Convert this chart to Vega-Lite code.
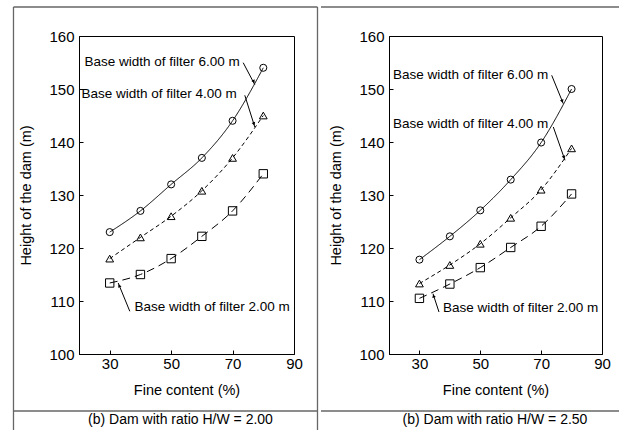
{
  "$schema": "https://vega.github.io/schema/vega-lite/v6.json",
  "padding": {"left": 12, "top": 5, "right": 0, "bottom": 0},
  "background": "white",
  "spacing": 0,
  "config": {
    "font": "Liberation Sans",
    "view": {"stroke": "black", "strokeWidth": 1},
    "axis": {
      "grid": false,
      "domainColor": "black",
      "domainWidth": 1,
      "tickColor": "black",
      "tickSize": -4,
      "labelColor": "black",
      "titleColor": "black",
      "labelFont": "Liberation Sans",
      "titleFont": "Liberation Sans",
      "labelFontSize": 15,
      "titleFontSize": 14.5,
      "titleFontWeight": "normal",
      "labelOverlap": false
    },
    "axisX": {"labelPadding": 6, "titlePadding": 12},
    "axisY": {"labelPadding": 9, "titlePadding": 15}
  },
  "datasets": {
    "dam": [
      {"ratio": "2.00", "filter": "6.00 m", "fine": 30, "height": 123},
      {"ratio": "2.00", "filter": "6.00 m", "fine": 40, "height": 127},
      {"ratio": "2.00", "filter": "6.00 m", "fine": 50, "height": 132},
      {"ratio": "2.00", "filter": "6.00 m", "fine": 60, "height": 137},
      {"ratio": "2.00", "filter": "6.00 m", "fine": 70, "height": 144},
      {"ratio": "2.00", "filter": "6.00 m", "fine": 80, "height": 154},
      {"ratio": "2.00", "filter": "4.00 m", "fine": 30, "height": 118},
      {"ratio": "2.00", "filter": "4.00 m", "fine": 40, "height": 122},
      {"ratio": "2.00", "filter": "4.00 m", "fine": 50, "height": 126},
      {"ratio": "2.00", "filter": "4.00 m", "fine": 60, "height": 130.8},
      {"ratio": "2.00", "filter": "4.00 m", "fine": 70, "height": 137},
      {"ratio": "2.00", "filter": "4.00 m", "fine": 80, "height": 145},
      {"ratio": "2.00", "filter": "2.00 m", "fine": 30, "height": 113.4},
      {"ratio": "2.00", "filter": "2.00 m", "fine": 40, "height": 115},
      {"ratio": "2.00", "filter": "2.00 m", "fine": 50, "height": 118},
      {"ratio": "2.00", "filter": "2.00 m", "fine": 60, "height": 122.2},
      {"ratio": "2.00", "filter": "2.00 m", "fine": 70, "height": 127},
      {"ratio": "2.00", "filter": "2.00 m", "fine": 80, "height": 134},
      {"ratio": "2.50", "filter": "6.00 m", "fine": 30, "height": 117.8},
      {"ratio": "2.50", "filter": "6.00 m", "fine": 40, "height": 122.2},
      {"ratio": "2.50", "filter": "6.00 m", "fine": 50, "height": 127.1},
      {"ratio": "2.50", "filter": "6.00 m", "fine": 60, "height": 132.9},
      {"ratio": "2.50", "filter": "6.00 m", "fine": 70, "height": 139.9},
      {"ratio": "2.50", "filter": "6.00 m", "fine": 80, "height": 150},
      {"ratio": "2.50", "filter": "4.00 m", "fine": 30, "height": 113.3},
      {"ratio": "2.50", "filter": "4.00 m", "fine": 40, "height": 116.8},
      {"ratio": "2.50", "filter": "4.00 m", "fine": 50, "height": 120.8},
      {"ratio": "2.50", "filter": "4.00 m", "fine": 60, "height": 125.7},
      {"ratio": "2.50", "filter": "4.00 m", "fine": 70, "height": 131},
      {"ratio": "2.50", "filter": "4.00 m", "fine": 80, "height": 138.8},
      {"ratio": "2.50", "filter": "2.00 m", "fine": 30, "height": 110.5},
      {"ratio": "2.50", "filter": "2.00 m", "fine": 40, "height": 113.2},
      {"ratio": "2.50", "filter": "2.00 m", "fine": 50, "height": 116.3},
      {"ratio": "2.50", "filter": "2.00 m", "fine": 60, "height": 120.1},
      {"ratio": "2.50", "filter": "2.00 m", "fine": 70, "height": 124.1},
      {"ratio": "2.50", "filter": "2.00 m", "fine": 80, "height": 130.2}
    ]
  },
  "hconcat": [
    {
      "width": 215,
      "height": 318,
      "layer": [
        {
          "data": {"name": "dam"},
          "transform": [{"filter": "datum.ratio == '2.00'"}],
          "mark": {"type": "line", "interpolate": "monotone", "color": "black", "strokeWidth": 1},
          "encoding": {
            "x": {"field": "fine", "type": "quantitative", "scale": {"domain": [20, 90]},
              "axis": {"title": "Fine content (%)", "values": [30, 40, 50, 60, 70, 80, 90], "labelOverlap": false, "labelFlush": false, "labelExpr": "datum.value % 20 == 10 ? datum.label : ''"}},
            "y": {"field": "height", "type": "quantitative", "scale": {"domain": [100, 160]},
              "axis": {"title": "Height of the dam (m)", "values": [100, 105, 110, 115, 120, 125, 130, 135, 140, 145, 150, 155, 160], "labelOverlap": false, "labelFlush": false, "labelExpr": "datum.value % 10 == 0 ? datum.label : ''"}},
            "strokeDash": {"field": "filter", "type": "nominal", "scale": {"domain": ["6.00 m", "4.00 m", "2.00 m"], "range": [[1, 0], [4, 3], [8, 5]]}, "legend": null}
          }
        },
        {
          "data": {"name": "dam"},
          "transform": [{"filter": "datum.ratio == '2.00'"}],
          "mark": {"type": "point", "filled": false, "color": "black", "strokeWidth": 1, "opacity": 1},
          "encoding": {
            "x": {"field": "fine", "type": "quantitative"},
            "y": {"field": "height", "type": "quantitative"},
            "shape": {"field": "filter", "type": "nominal", "scale": {"domain": ["6.00 m", "4.00 m", "2.00 m"], "range": ["circle", "triangle-up", "square"]}, "legend": null},
            "size": {"field": "filter", "type": "nominal", "scale": {"domain": ["6.00 m", "4.00 m", "2.00 m"], "range": [50, 70, 100]}, "legend": null}
          }
        },
        {
          "data": {"values": [{}]},
          "mark": {"type": "rule", "color": "black", "strokeWidth": 1, "clip": false},
          "encoding": {"x": {"datum": 73.46, "type": "quantitative"}, "y": {"datum": 154.96, "type": "quantitative"}, "x2": {"datum": 77.24}, "y2": {"datum": 150.81}}
        },
        {
          "data": {"values": [{}]},
          "mark": {"type": "point", "shape": "triangle-up", "filled": true, "color": "black", "size": 14, "angle": 152, "opacity": 1},
          "encoding": {"x": {"datum": 76.9, "type": "quantitative"}, "y": {"datum": 151.4, "type": "quantitative"}}
        },
        {
          "data": {"values": [{}]},
          "mark": {"type": "rule", "color": "black", "strokeWidth": 1, "clip": false},
          "encoding": {"x": {"datum": 73.98, "type": "quantitative"}, "y": {"datum": 148.81, "type": "quantitative"}, "x2": {"datum": 77.24}, "y2": {"datum": 142.83}}
        },
        {
          "data": {"values": [{}]},
          "mark": {"type": "point", "shape": "triangle-up", "filled": true, "color": "black", "size": 14, "angle": 162, "opacity": 1},
          "encoding": {"x": {"datum": 76.95, "type": "quantitative"}, "y": {"datum": 143.4, "type": "quantitative"}}
        },
        {
          "data": {"values": [{}]},
          "mark": {"type": "rule", "color": "black", "strokeWidth": 1, "clip": false},
          "encoding": {"x": {"datum": 36.54, "type": "quantitative"}, "y": {"datum": 108.06, "type": "quantitative"}, "x2": {"datum": 32.76}, "y2": {"datum": 113.4}}
        },
        {
          "data": {"values": [{}]},
          "mark": {"type": "point", "shape": "triangle-up", "filled": true, "color": "black", "size": 14, "angle": 338, "opacity": 1},
          "encoding": {"x": {"datum": 33.1, "type": "quantitative"}, "y": {"datum": 112.9, "type": "quantitative"}}
        },
        {
          "data": {"values": [{}]},
          "mark": {"type": "text", "text": "Base width of filter 6.00 m", "align": "left", "baseline": "middle", "fontSize": 13.5, "color": "black"},
          "encoding": {"x": {"datum": 21.79, "type": "quantitative"}, "y": {"datum": 155.09, "type": "quantitative"}}
        },
        {
          "data": {"values": [{}]},
          "mark": {"type": "text", "text": "Base width of filter 4.00 m", "align": "left", "baseline": "middle", "fontSize": 13.5, "color": "black"},
          "encoding": {"x": {"datum": 20.81, "type": "quantitative"}, "y": {"datum": 149.06, "type": "quantitative"}}
        },
        {
          "data": {"values": [{}]},
          "mark": {"type": "text", "text": "Base width of filter 2.00 m", "align": "left", "baseline": "middle", "fontSize": 13.5, "color": "black"},
          "encoding": {"x": {"datum": 38.07, "type": "quantitative"}, "y": {"datum": 108.87, "type": "quantitative"}}
        },
        {
          "data": {"values": [{}]},
          "mark": {"type": "text", "text": "(b) Dam with ratio H/W = 2.00", "align": "center", "baseline": "middle", "fontSize": 14, "color": "black", "clip": false},
          "encoding": {"x": {"datum": 53.05, "type": "quantitative"}, "y": {"datum": 87.55, "type": "quantitative"}}
        },
        {
          "data": {"values": [{}]},
          "mark": {"type": "rule", "color": "#666", "strokeWidth": 1.3, "clip": false},
          "encoding": {"x": {"datum": -1.33, "type": "quantitative"}, "y": {"datum": 165.47, "type": "quantitative"}, "y2": {"datum": 85.47}}
        },
        {
          "data": {"values": [{}]},
          "mark": {"type": "rule", "color": "#666", "strokeWidth": 1.3, "clip": false},
          "encoding": {"x": {"datum": 97.65, "type": "quantitative"}, "y": {"datum": 165.47, "type": "quantitative"}, "y2": {"datum": 85.47}}
        },
        {
          "data": {"values": [{}]},
          "mark": {"type": "rule", "color": "#666", "strokeWidth": 1.3, "clip": false},
          "encoding": {"x": {"datum": -1.33, "type": "quantitative"}, "x2": {"datum": 97.65}, "y": {"datum": 165.47, "type": "quantitative"}}
        },
        {
          "data": {"values": [{}]},
          "mark": {"type": "rule", "color": "#666", "strokeWidth": 1.3, "clip": false},
          "encoding": {"x": {"datum": -1.33, "type": "quantitative"}, "x2": {"datum": 97.65}, "y": {"datum": 89.25, "type": "quantitative"}}
        }
      ]
    },
    {
      "width": 213,
      "height": 318,
      "layer": [
        {
          "data": {"name": "dam"},
          "transform": [{"filter": "datum.ratio == '2.50'"}],
          "mark": {"type": "line", "interpolate": "monotone", "color": "black", "strokeWidth": 1},
          "encoding": {
            "x": {"field": "fine", "type": "quantitative", "scale": {"domain": [20, 90]},
              "axis": {"title": "Fine content (%)", "values": [30, 40, 50, 60, 70, 80, 90], "labelOverlap": false, "labelFlush": false, "labelExpr": "datum.value % 20 == 10 ? datum.label : ''"}},
            "y": {"field": "height", "type": "quantitative", "scale": {"domain": [100, 160]},
              "axis": {"title": "Height of the dam (m)", "values": [100, 105, 110, 115, 120, 125, 130, 135, 140, 145, 150, 155, 160], "labelOverlap": false, "labelFlush": false, "labelExpr": "datum.value % 10 == 0 ? datum.label : ''"}},
            "strokeDash": {"field": "filter", "type": "nominal", "scale": {"domain": ["6.00 m", "4.00 m", "2.00 m"], "range": [[1, 0], [4, 3], [8, 5]]}, "legend": null}
          }
        },
        {
          "data": {"name": "dam"},
          "transform": [{"filter": "datum.ratio == '2.50'"}],
          "mark": {"type": "point", "filled": false, "color": "black", "strokeWidth": 1, "opacity": 1},
          "encoding": {
            "x": {"field": "fine", "type": "quantitative"},
            "y": {"field": "height", "type": "quantitative"},
            "shape": {"field": "filter", "type": "nominal", "scale": {"domain": ["6.00 m", "4.00 m", "2.00 m"], "range": ["circle", "triangle-up", "square"]}, "legend": null},
            "size": {"field": "filter", "type": "nominal", "scale": {"domain": ["6.00 m", "4.00 m", "2.00 m"], "range": [50, 70, 100]}, "legend": null}
          }
        },
        {
          "data": {"values": [{}]},
          "mark": {"type": "rule", "color": "black", "strokeWidth": 1, "clip": false},
          "encoding": {"x": {"datum": 73.47, "type": "quantitative"}, "y": {"datum": 152.58, "type": "quantitative"}, "x2": {"datum": 77.28}, "y2": {"datum": 147.23}}
        },
        {
          "data": {"values": [{}]},
          "mark": {"type": "point", "shape": "triangle-up", "filled": true, "color": "black", "size": 14, "angle": 158, "opacity": 1},
          "encoding": {"x": {"datum": 76.95, "type": "quantitative"}, "y": {"datum": 147.7, "type": "quantitative"}}
        },
        {
          "data": {"values": [{}]},
          "mark": {"type": "rule", "color": "black", "strokeWidth": 1, "clip": false},
          "encoding": {"x": {"datum": 74.0, "type": "quantitative"}, "y": {"datum": 142.83, "type": "quantitative"}, "x2": {"datum": 77.84}, "y2": {"datum": 136.55}}
        },
        {
          "data": {"values": [{}]},
          "mark": {"type": "point", "shape": "triangle-up", "filled": true, "color": "black", "size": 14, "angle": 161, "opacity": 1},
          "encoding": {"x": {"datum": 77.5, "type": "quantitative"}, "y": {"datum": 137.1, "type": "quantitative"}}
        },
        {
          "data": {"values": [{}]},
          "mark": {"type": "rule", "color": "black", "strokeWidth": 1, "clip": false},
          "encoding": {"x": {"datum": 36.43, "type": "quantitative"}, "y": {"datum": 107.92, "type": "quantitative"}, "x2": {"datum": 34.46}, "y2": {"datum": 111.38}}
        },
        {
          "data": {"values": [{}]},
          "mark": {"type": "point", "shape": "triangle-up", "filled": true, "color": "black", "size": 14, "angle": 342, "opacity": 1},
          "encoding": {"x": {"datum": 34.65, "type": "quantitative"}, "y": {"datum": 110.95, "type": "quantitative"}}
        },
        {
          "data": {"values": [{}]},
          "mark": {"type": "text", "text": "Base width of filter 6.00 m", "align": "left", "baseline": "middle", "fontSize": 13.5, "color": "black"},
          "encoding": {"x": {"datum": 21.31, "type": "quantitative"}, "y": {"datum": 152.64, "type": "quantitative"}}
        },
        {
          "data": {"values": [{}]},
          "mark": {"type": "text", "text": "Base width of filter 4.00 m", "align": "left", "baseline": "middle", "fontSize": 13.5, "color": "black"},
          "encoding": {"x": {"datum": 21.31, "type": "quantitative"}, "y": {"datum": 143.4, "type": "quantitative"}}
        },
        {
          "data": {"values": [{}]},
          "mark": {"type": "text", "text": "Base width of filter 2.00 m", "align": "left", "baseline": "middle", "fontSize": 13.5, "color": "black"},
          "encoding": {"x": {"datum": 37.75, "type": "quantitative"}, "y": {"datum": 108.68, "type": "quantitative"}}
        },
        {
          "data": {"values": [{}]},
          "mark": {"type": "text", "text": "(b) Dam with ratio H/W = 2.50", "align": "center", "baseline": "middle", "fontSize": 14, "color": "black", "clip": false},
          "encoding": {"x": {"datum": 54.84, "type": "quantitative"}, "y": {"datum": 87.55, "type": "quantitative"}}
        },
        {
          "data": {"values": [{}]},
          "mark": {"type": "rule", "color": "#666", "strokeWidth": 1.3, "clip": false},
          "encoding": {"x": {"datum": -2.35, "type": "quantitative"}, "x2": {"datum": 96.9}, "y": {"datum": 165.47, "type": "quantitative"}}
        },
        {
          "data": {"values": [{}]},
          "mark": {"type": "rule", "color": "#666", "strokeWidth": 1.3, "clip": false},
          "encoding": {"x": {"datum": -2.35, "type": "quantitative"}, "x2": {"datum": 96.9}, "y": {"datum": 89.25, "type": "quantitative"}}
        }
      ]
    }
  ]
}
